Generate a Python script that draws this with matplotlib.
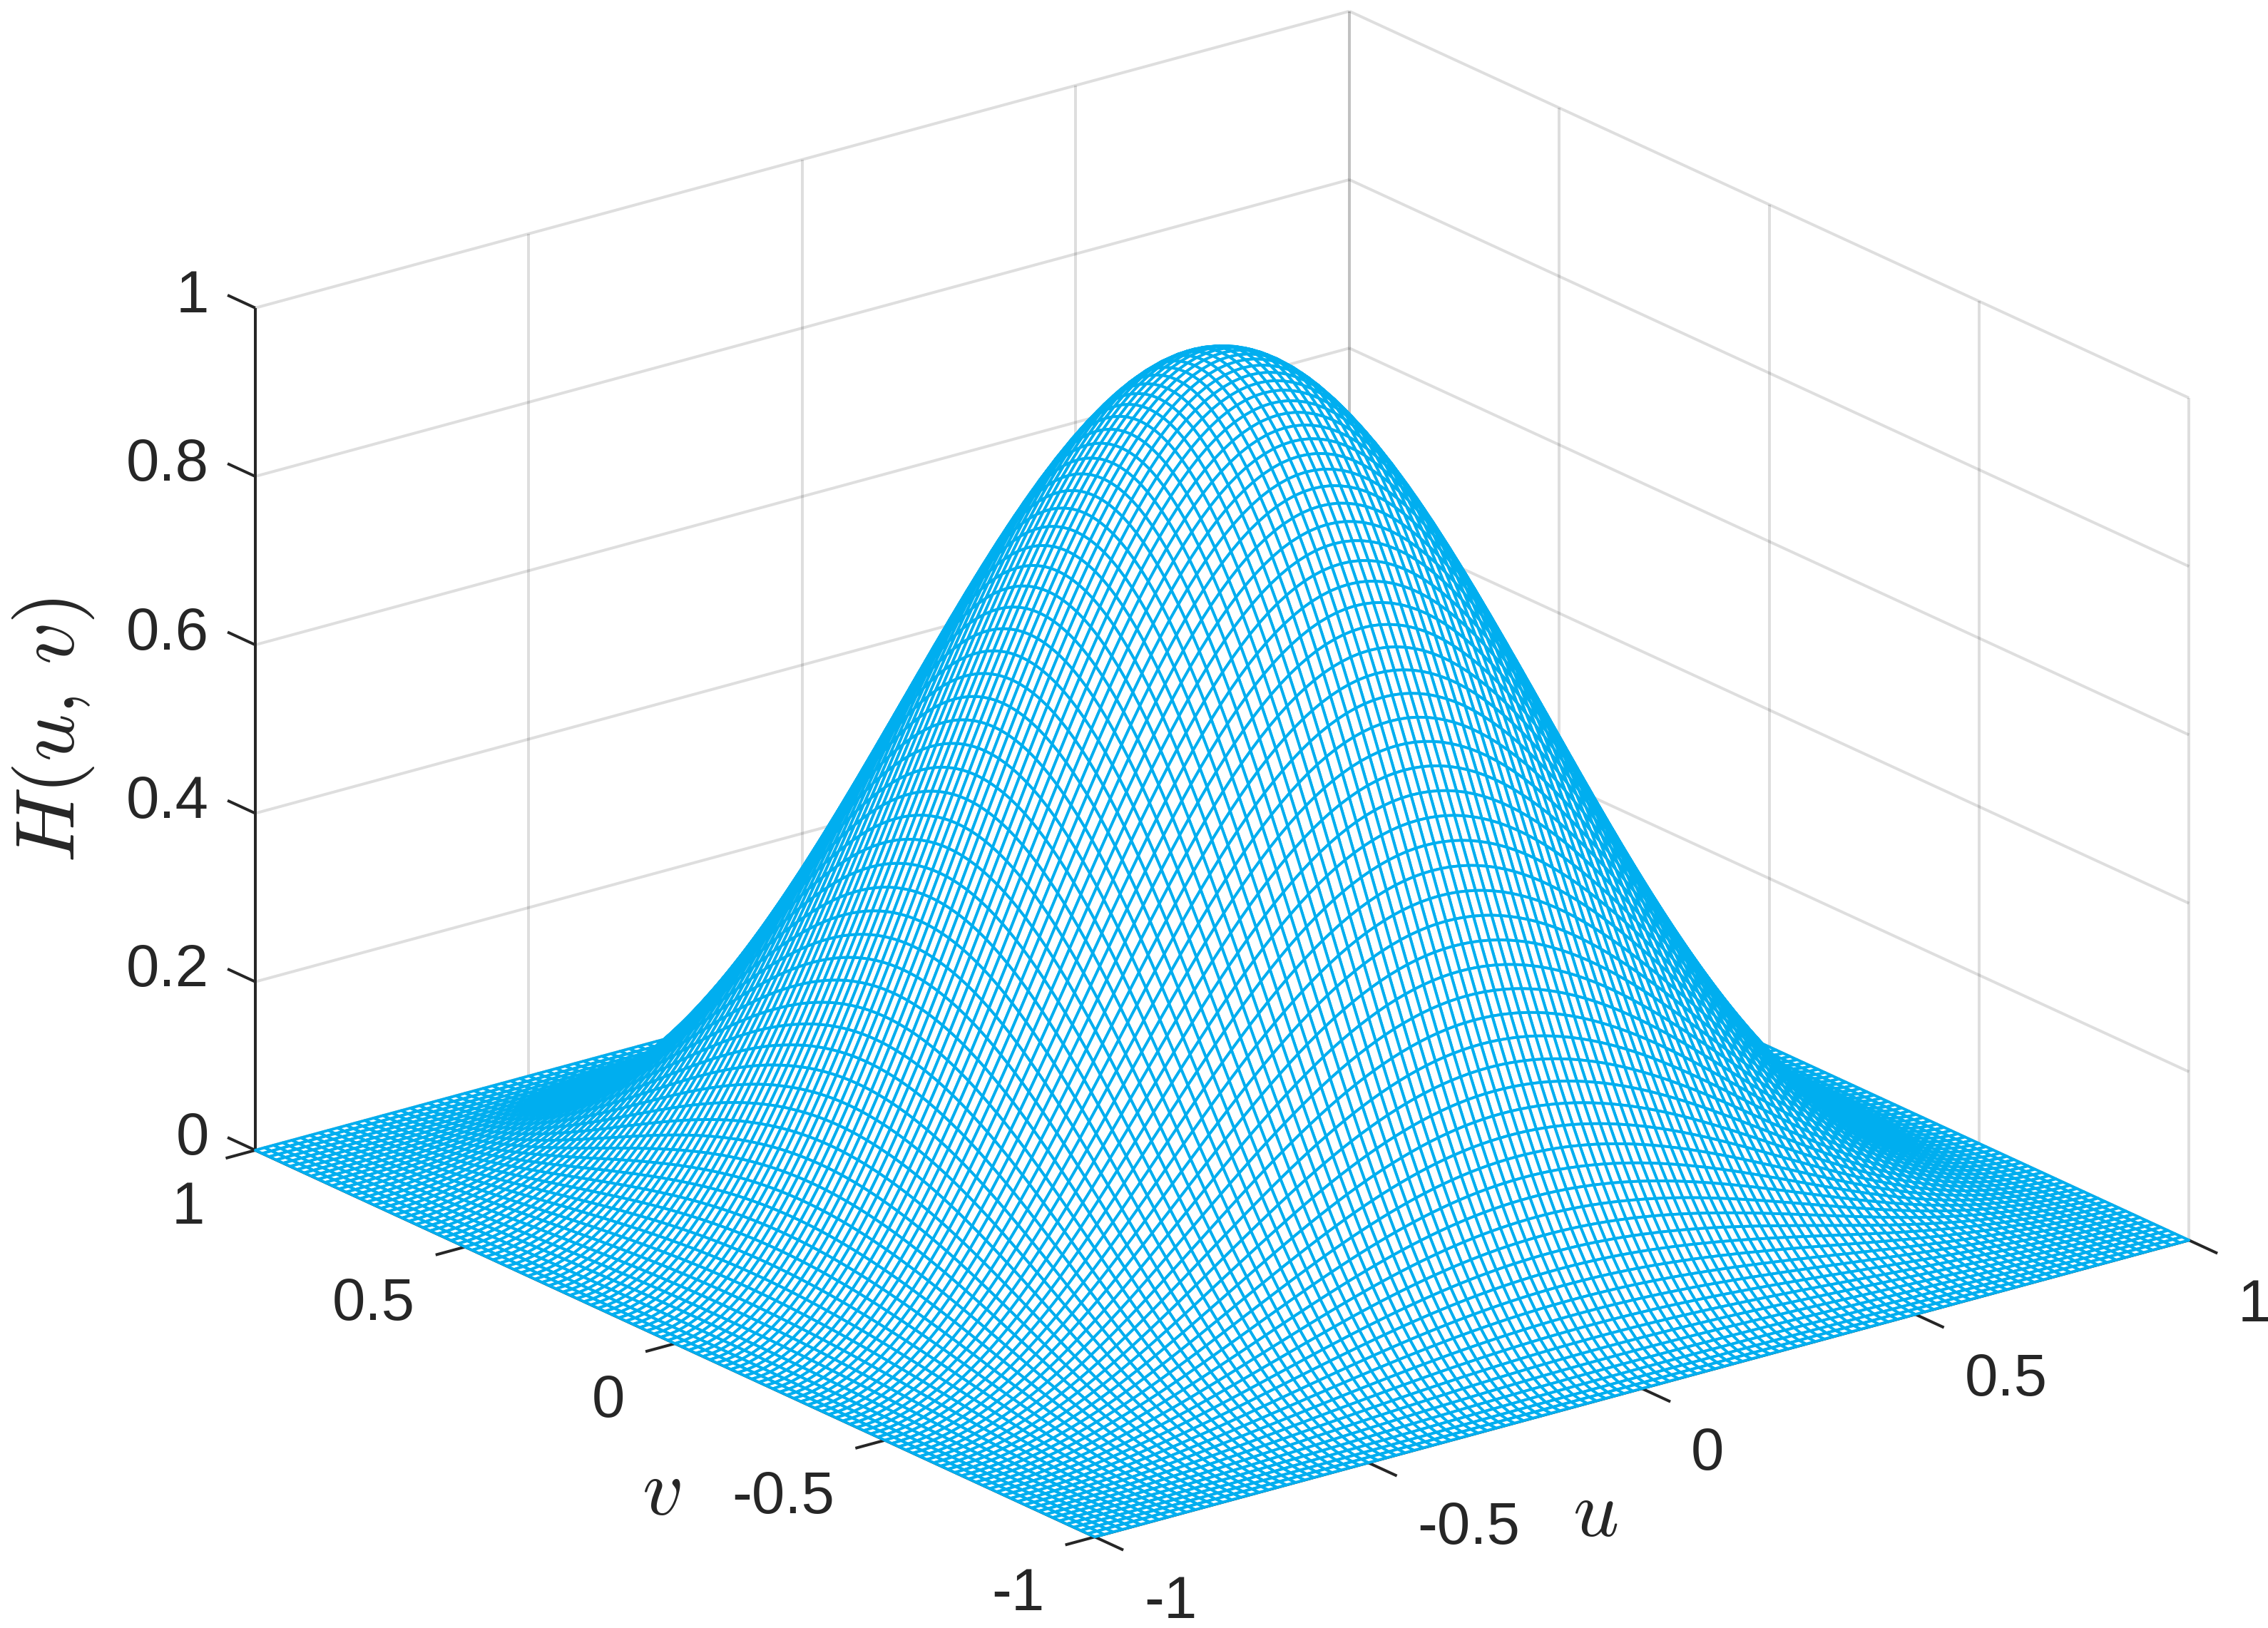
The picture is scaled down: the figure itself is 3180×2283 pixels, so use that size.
import numpy as np
import matplotlib
matplotlib.use("Agg")
import matplotlib.pyplot as plt

plt.rcParams['font.family'] = ['Liberation Sans', 'DejaVu Sans']
plt.rcParams['mathtext.fontset'] = 'cm'

# profile of H along one axis, edge to centre, mirrored below
profile_half = [
    0.0000, 0.0007, 0.0027, 0.0062, 0.0109, 0.0170, 0.0245, 0.0332, 0.0432, 0.0545,
    0.0670, 0.0807, 0.0955, 0.1114, 0.1284, 0.1464, 0.1654, 0.1853, 0.2061, 0.2277,
    0.2500, 0.2730, 0.2966, 0.3208, 0.3455, 0.3706, 0.3960, 0.4218, 0.4477, 0.4738,
    0.5000, 0.5262, 0.5523, 0.5782, 0.6040, 0.6294, 0.6545, 0.6792, 0.7034, 0.7270,
    0.7500, 0.7723, 0.7939, 0.8147, 0.8346, 0.8536, 0.8716, 0.8886, 0.9045, 0.9193,
    0.9330, 0.9455, 0.9568, 0.9668, 0.9755, 0.9830, 0.9891, 0.9938, 0.9973, 0.9993,
]
profile_peak = 1.0
u_ticks = [-1, -0.5, 0, 0.5, 1]
v_ticks = [-1, -0.5, 0, 0.5, 1]
z_ticks = [0, 0.2, 0.4, 0.6, 0.8, 1]
u_labels = ['-1', '-0.5', '0', '0.5', '1']
v_labels = ['-1', '-0.5', '0', '0.5', '1']
z_labels = ['0', '0.2', '0.4', '0.6', '0.8', '1']

BLUE = '#00AEEF'
DARK = '#262626'
W, H_PX = 3180, 2283
DPI = 300
TICK_FONT = 20
S = 2924
px = 72 / DPI

profile = np.array(profile_half + [profile_peak] + profile_half[::-1])
grid = np.linspace(-1, 1, len(profile))
U, V = np.meshgrid(grid, grid)
Z = np.outer(profile, profile)

fig = plt.figure(figsize=(W / DPI, H_PX / DPI), dpi=DPI, facecolor='white')
ax = fig.add_axes([212 / W, -304 / H_PX, S / W, S / H_PX], projection='3d')
ax.set_proj_type('ortho')
ax.view_init(elev=20.7, azim=-127.5)
ax.set_box_aspect((1, 1, 0.653))
ax.set_xlim(-1, 1, view_margin=0)
ax.set_ylim(-1, 1, view_margin=0)
ax.set_zlim(0, 1, view_margin=0)
# box, ticks and labels are drawn below so they sit on the same edges as the original
ax.set_xticks([])
ax.set_yticks([])
ax.set_zticks([])
ax.set_axis_off()
ax.computed_zorder = False


def grid_line(xs, ys, zs):
    ax.plot(xs, ys, zs, color='k', alpha=0.13, lw=4 * px, solid_capstyle='butt', zorder=1)


def axis_line(xs, ys, zs):
    ax.plot(xs, ys, zs, color=DARK, lw=4 * px, solid_capstyle='butt', zorder=2)


# back walls and floor
for t in u_ticks:
    grid_line([t, t], [1, 1], [0, 1])
    grid_line([t, t], [-1, 1], [0, 0])
for t in v_ticks:
    grid_line([1, 1], [t, t], [0, 1])
    grid_line([-1, 1], [t, t], [0, 0])
for t in z_ticks:
    grid_line([-1, 1], [1, 1], [t, t])
    grid_line([1, 1], [-1, 1], [t, t])

# front axes
axis_line([-1, 1], [-1, -1], [0, 0])
axis_line([-1, -1], [-1, 1], [0, 0])
axis_line([-1, -1], [1, 1], [0, 1])
for t, s in zip(u_ticks, u_labels):
    axis_line([t, t], [-1, -1.068], [0, 0])
    ax.text(t, -1.117, -0.051, s, ha='left', va='center', fontsize=TICK_FONT, color=DARK)
for t, s in zip(v_ticks, v_labels):
    axis_line([-1, -1.054], [t, t], [0, 0])
    ax.text(-1.092, t, -0.052, s, ha='right', va='center', fontsize=TICK_FONT, color=DARK)
for t, s in zip(z_ticks, z_labels):
    axis_line([-1, -1], [1, 1.066], [t, t])
    ax.text(-1, 1.11, t - 0.012, s, ha='right', va='center', fontsize=TICK_FONT, color=DARK)

ax.plot_surface(U, V, Z, rstride=1, cstride=1, color='white', edgecolor=BLUE,
                linewidth=3.9 * px, shade=False, zorder=3)

ax.text2D(75 / W, 1 - 1024 / H_PX, r'$H(u,\,v)$', transform=fig.transFigure, rotation=90,
          ha='center', va='center', fontsize=28, color=DARK)
ax.text2D(2237 / W, 1 - 2125 / H_PX, r'$u$', transform=fig.transFigure,
          ha='center', va='center', fontsize=27, color=DARK)
ax.text2D(927 / W, 1 - 2095 / H_PX, r'$v$', transform=fig.transFigure,
          ha='center', va='center', fontsize=27, color=DARK)

fig.savefig('out.png', dpi=DPI)
